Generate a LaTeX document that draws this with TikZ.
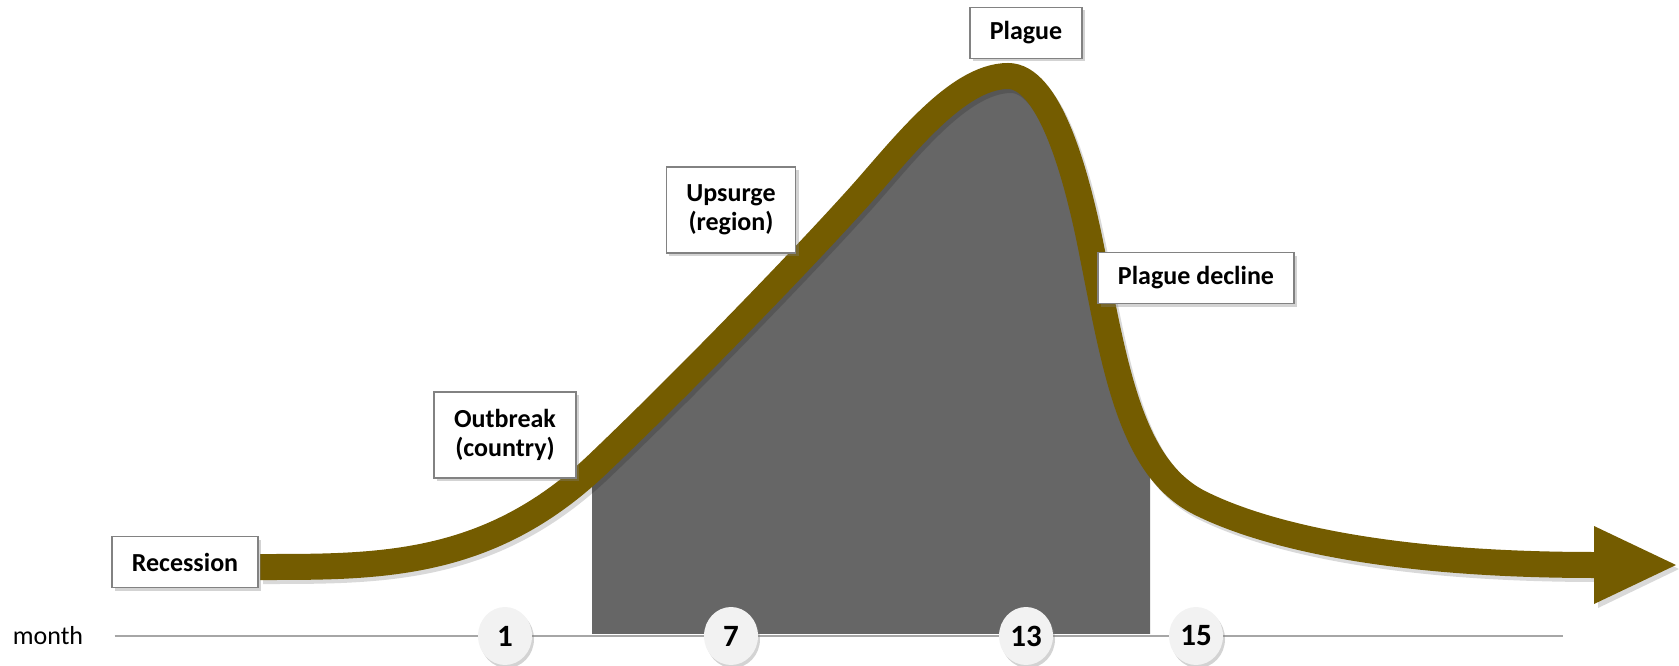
\documentclass[tikz,border=0pt]{standalone}
\usepackage{fontspec}
\setmainfont{Carlito}
\usetikzlibrary{positioning,shapes.geometric,shadows}
\definecolor{curvebrown}{RGB}{116,92,0}
\definecolor{areagray}{RGB}{102,102,102}
\definecolor{framegray}{RGB}{130,130,130}
\definecolor{dotfill}{RGB}{242,242,242}
\definecolor{axisgray}{RGB}{166,166,166}
\tikzset{%
  stage/.style={draw=framegray,line width=1.6pt,fill=white,align=center,
    inner xsep=20pt,inner ysep=4pt,minimum height=51pt,
    font=\fontsize{26}{29}\selectfont\bfseries,
    drop shadow={shadow xshift=3pt,shadow yshift=-3pt,opacity=.35}},
  monthdot/.style={ellipse,fill=dotfill,minimum width=54pt,minimum height=58pt,
    inner sep=0pt,font=\fontsize{31}{34}\selectfont\bfseries,
    drop shadow={shadow xshift=2pt,shadow yshift=-3pt,opacity=.35}},
  axisline/.style={draw=axisgray,line width=2pt},
  epicurve/.style={draw=curvebrown,line width=26pt}
}
\newcommand\epicurvepts{(260,567) .. controls (380,567) and (490,568) .. (600,462)
  .. controls (690,376) and (800,262) .. (856,200)
  .. controls (898,154) and (955,76) .. (1008,76)
  .. controls (1048,76) and (1075,167) .. (1091,247)
  .. controls (1115,367) and (1130,468) .. (1200,503)
  .. controls (1260,533) and (1380,565) .. (1595,565)}

\begin{document}
\begin{tikzpicture}[x=1pt,y=-1pt]
\useasboundingbox (0,0) rectangle (1679,666);
% time axis
\node[font=\fontsize{26}{29}\selectfont] (month) at (48,636) {month};
\coordinate (axisend) at (1563,636);
\draw[axisline] ([xshift=28pt]month.east) -- (axisend);
% area below the curve
\begin{scope}
  \clip (592,0) rectangle (1150,633);
  \fill[areagray] \epicurvepts -- (1595,700) -- (260,700) -- cycle;
\end{scope}
% curve with its shadow
\draw[epicurve,draw=black,opacity=.15,shift={(3,4)}] \epicurvepts;
\fill[black,opacity=.15,shift={(3,4)}] (1595,526) -- (1676,565) -- (1595,604) -- cycle;
\draw[epicurve] \epicurvepts;
\fill[curvebrown] (1594,526) -- (1676,565) -- (1594,604) -- cycle;
% stages
\node[stage] (recession) at (185,562) {Recession};
\node[stage,minimum height=86pt] (outbreak) at (505,435) {Outbreak\\(country)};
\node[stage,minimum height=86pt] (upsurge) at (731,210) {Upsurge\\(region)};
\node[stage] (plague) at (1026,33) {Plague};
\node[stage] (decline) at (1196,278) {Plague decline};
% months
\foreach \m/\s in {1/outbreak,7/upsurge,13/plague,15/decline}
  \node[monthdot] (m\m) at (\s |- axisend) {\m};
\end{tikzpicture}
\end{document}
